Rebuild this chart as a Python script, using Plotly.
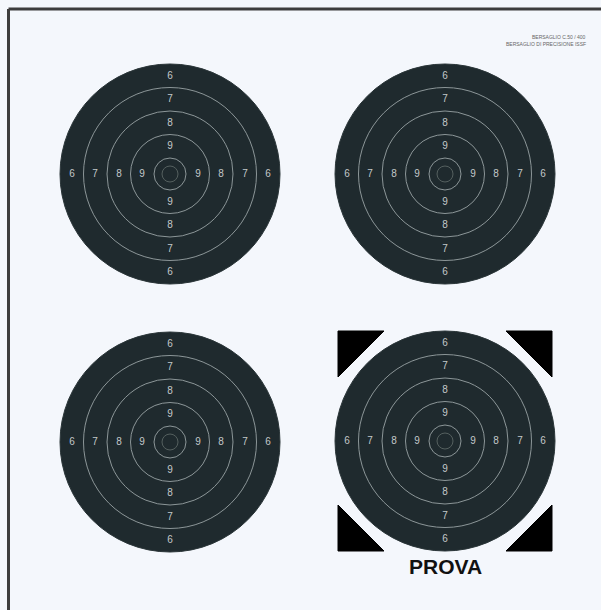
import plotly.graph_objects as go

# ---- data ----
target_names = ["1", "2", "3", "PROVA"]
target_cx = [170, 445, 170, 445]
target_cy = [174, 174, 442, 441]

ring_scores = [10, 9, 8, 7, 6]
ring_radius = [16, 39.5, 63, 86.5, 110]
inner_x_radius = 8

label_scores = [9, 8, 7, 6]
label_offset = [28, 51, 75, 98]

header_lines = ["BERSAGLIO C.50 / 400", "BERSAGLIO DI PRECISIONE ISSF"]
prova_label = "PROVA"

# ---- styles ----
BG = "#f4f7fc"
TARGET_FILL = "#1f2a2e"
RING_COLOR = "#8c9698"
NUM_COLOR = "#c3c9ca"
W, H = 601, 610

fig = go.Figure()
shapes = []

# frame (top and left only)
shapes.append(dict(type="line", xref="x", yref="y", x0=8.5, y0=9, x1=W, y1=9,
                   line=dict(color="#3d3d3d", width=3), layer="above"))
shapes.append(dict(type="line", xref="x", yref="y", x0=8.5, y0=9, x1=8.5, y1=H,
                   line=dict(color="#3d3d3d", width=3), layer="above"))

label_x, label_y, label_t = [], [], []
for name, cx, cy in zip(target_names, target_cx, target_cy):
    outer = max(ring_radius)
    shapes.append(dict(type="circle", xref="x", yref="y",
                       x0=cx - outer, x1=cx + outer, y0=cy - outer, y1=cy + outer,
                       fillcolor=TARGET_FILL, line=dict(color="#2a3538", width=1),
                       layer="below"))
    for sc, r in zip(ring_scores, ring_radius):
        if r >= outer:
            continue
        shapes.append(dict(type="circle", xref="x", yref="y",
                           x0=cx - r, x1=cx + r, y0=cy - r, y1=cy + r,
                           line=dict(color=RING_COLOR, width=1), layer="below"))
    r = inner_x_radius
    shapes.append(dict(type="circle", xref="x", yref="y",
                       x0=cx - r, x1=cx + r, y0=cy - r, y1=cy + r,
                       line=dict(color="#55605f", width=1), layer="below"))
    for sc, d in zip(label_scores, label_offset):
        for dx, dy in [(0, -d), (0, d), (-d, 0), (d, 0)]:
            label_x.append(cx + dx)
            label_y.append(cy + dy)
            label_t.append(str(sc))

    if name == prova_label:
        hw, hh, leg = 107, 110, 46
        corners = [(-1, -1), (1, -1), (-1, 1), (1, 1)]
        for sx, sy in corners:
            px, py = cx + sx * hw, cy + sy * hh
            path = (f"M {px},{py} L {px - sx * leg},{py} "
                    f"L {px},{py - sy * leg} Z")
            shapes.append(dict(type="path", xref="x", yref="y", path=path,
                               fillcolor="#000000", line=dict(color="#000000", width=1),
                               layer="below"))
        fig.add_annotation(x=cx, y=cy + 125, text=f"<b>{prova_label}</b>",
                           showarrow=False, xref="x", yref="y",
                           font=dict(family="Liberation Sans, Arial", size=21, color="#111111"),
                           xanchor="center", yanchor="middle")

fig.add_trace(go.Scatter(x=label_x, y=label_y, text=label_t, mode="text",
                         textfont=dict(family="Liberation Sans, Arial", size=10, color=NUM_COLOR),
                         hoverinfo="skip", showlegend=False))

for i, line in enumerate(header_lines):
    fig.add_annotation(x=588, y=37 + i * 7, text=line, showarrow=False,
                       xref="x", yref="y", xanchor="right", yanchor="middle",
                       font=dict(family="Liberation Sans, Arial", size=5, color="#666666"))

fig.update_layout(
    width=W, height=H, margin=dict(l=0, r=0, t=0, b=0),
    paper_bgcolor=BG, plot_bgcolor=BG, shapes=shapes, showlegend=False,
    xaxis=dict(range=[0, W], visible=False, fixedrange=True),
    yaxis=dict(range=[H, 0], visible=False, fixedrange=True),
)

fig.write_html("out.html", config={"displayModeBar": False},
               post_script="document.body.style.margin='0';document.body.style.overflow='hidden';")
